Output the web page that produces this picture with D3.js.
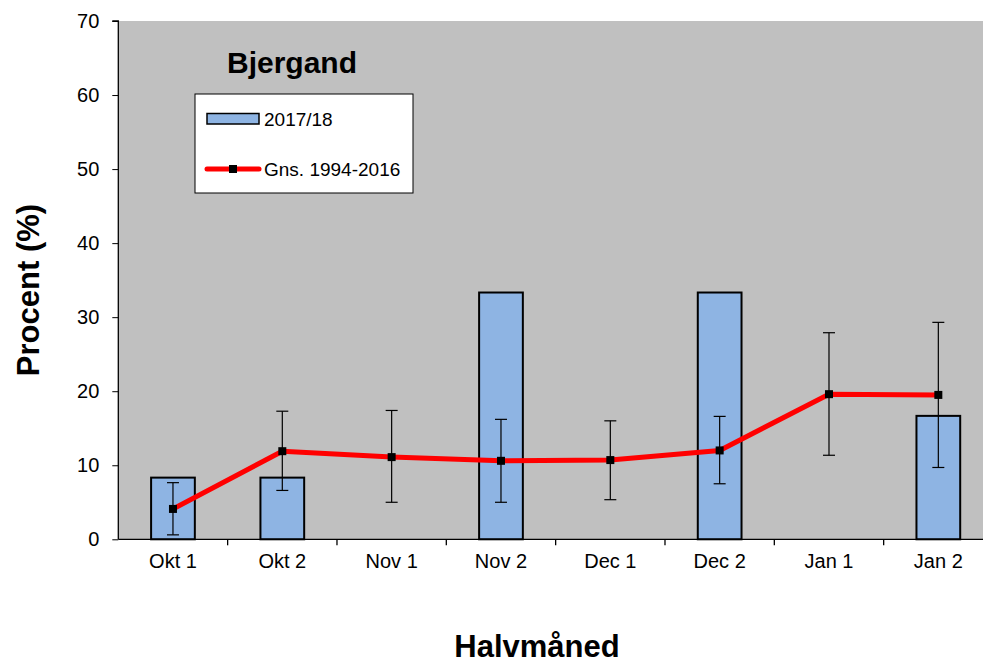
<!DOCTYPE html>
<html>
<head>
<meta charset="utf-8">
<script src="https://cdn.jsdelivr.net/npm/d3@7"></script>
<style>
  body { margin: 0; background: #fff; }
  svg { display: block; font-family: "Liberation Sans", Arial, sans-serif; }
</style>
</head>
<body>
<div id="chart"></div>
<script>
// data
var categories = ["Okt 1", "Okt 2", "Nov 1", "Nov 2", "Dec 1", "Dec 2", "Jan 1", "Jan 2"];
var season = [8.33, 8.33, 0, 33.33, 0, 33.33, 0, 16.67];       // 2017/18
var average = [4.1, 11.9, 11.1, 10.6, 10.7, 12.0, 19.6, 19.5];  // Gns. 1994-2016
var errLow = [0.6, 6.6, 5.0, 5.0, 5.35, 7.5, 11.35, 9.7];
var errHigh = [7.65, 17.3, 17.4, 16.2, 16.0, 16.6, 27.9, 29.3];
var yTicks = [0, 10, 20, 30, 40, 50, 60, 70];

var svgWidth = 983;
var svgHeight = 661;

// plot area runs past the right edge of the picture
var plot = { left: 118.3, top: 21, right: 993, bottom: 539.3 };

var svg = d3.select("#chart")
  .append("svg")
  .attr("width", svgWidth)
  .attr("height", svgHeight);

var x = d3.scaleBand()
  .domain(categories)
  .range([plot.left, plot.right])
  .paddingInner(0.6)
  .paddingOuter(0.3);

// same categories, no padding -> used for labels and boundary ticks
var xCat = d3.scaleBand()
  .domain(categories)
  .range([plot.left, plot.right]);

var y = d3.scaleLinear()
  .domain([0, 70])
  .range([plot.bottom, plot.top]);

// grey plot background
svg.append("rect")
  .attr("x", plot.left)
  .attr("y", plot.top)
  .attr("width", plot.right - plot.left)
  .attr("height", plot.bottom - plot.top)
  .attr("fill", "#c0c0c0");

// bars (zero values draw nothing)
var barData = categories.map((c, i) => ({ cat: c, value: season[i] }))
  .filter(d => d.value > 0);

svg.append("g").selectAll("rect")
  .data(barData)
  .enter()
  .append("rect")
  .attr("x", d => x(d.cat))
  .attr("y", d => y(d.value))
  .attr("width", x.bandwidth())
  .attr("height", d => y(0) - y(d.value))
  .attr("fill", "#8eb4e3")
  .attr("stroke", "#000")
  .attr("stroke-width", 2);

var cx = d => x(d) + x.bandwidth() / 2;

// error bars
var errG = svg.append("g")
  .attr("stroke", "#000")
  .attr("stroke-width", 1.2);
categories.forEach(function(c, i) {
  var px = cx(c);
  errG.append("line")
    .attr("x1", px).attr("x2", px)
    .attr("y1", y(errLow[i])).attr("y2", y(errHigh[i]));
  [errLow[i], errHigh[i]].forEach(function(v) {
    errG.append("line")
      .attr("x1", px - 6).attr("x2", px + 6)
      .attr("y1", y(v)).attr("y2", y(v));
  });
});

// average line
var line = d3.line()
  .x((d, i) => cx(categories[i]))
  .y(d => y(d));

svg.append("path")
  .datum(average)
  .attr("d", line)
  .attr("fill", "none")
  .attr("stroke", "#ff0000")
  .attr("stroke-width", 5)
  .attr("stroke-linejoin", "round");

svg.append("g").selectAll("rect")
  .data(average)
  .enter()
  .append("rect")
  .attr("x", (d, i) => cx(categories[i]) - 4)
  .attr("y", d => y(d) - 4)
  .attr("width", 8)
  .attr("height", 8)
  .attr("fill", "#000");

// y axis
var leftAxis = d3.axisLeft(y)
  .tickValues(yTicks)
  .tickSize(6)
  .tickPadding(13);

var yAxis = svg.append("g")
  .attr("transform", `translate(${plot.left}, 0)`)
  .call(leftAxis);
yAxis.select(".domain").attr("stroke", "#000").attr("stroke-width", 1.3)
  .attr("d", `M-6,${plot.top}H0V${plot.bottom}`);
yAxis.selectAll("text").style("font-size", "20px").attr("fill", "#000");

// x axis: labels centred in categories, ticks at boundaries
var bottomAxis = d3.axisBottom(xCat)
  .tickSize(0)
  .tickPadding(15);

var xAxis = svg.append("g")
  .attr("transform", `translate(0, ${plot.bottom})`)
  .call(bottomAxis);
xAxis.select(".domain").attr("stroke", "#000").attr("stroke-width", 1.3)
  .attr("d", `M${plot.left},0H${plot.right}`);
xAxis.selectAll("text").style("font-size", "20px").attr("fill", "#000");

xAxis.selectAll(".bound")
  .data(categories.slice(1))
  .enter()
  .append("line")
  .attr("x1", d => xCat(d)).attr("x2", d => xCat(d))
  .attr("y1", 0).attr("y2", 6)
  .attr("stroke", "#000")
  .attr("stroke-width", 1.3);

// title inside plot
svg.append("text")
  .attr("x", 227)
  .attr("y", 73)
  .attr("font-weight", "bold")
  .style("font-size", "30px")
  .text("Bjergand");

// legend
var legend = svg.append("g");
legend.append("rect")
  .attr("x", 195).attr("y", 94)
  .attr("width", 218).attr("height", 99)
  .attr("fill", "#fff")
  .attr("stroke", "#000")
  .attr("stroke-width", 1);

legend.append("rect")
  .attr("x", 207).attr("y", 113.5)
  .attr("width", 52).attr("height", 10.5)
  .attr("fill", "#8eb4e3")
  .attr("stroke", "#000")
  .attr("stroke-width", 1.5);
legend.append("text")
  .attr("x", 264).attr("y", 125.5)
  .style("font-size", "19px")
  .text("2017/18");

legend.append("line")
  .attr("x1", 207).attr("x2", 259)
  .attr("y1", 169).attr("y2", 169)
  .attr("stroke", "#ff0000")
  .attr("stroke-width", 5)
  .attr("stroke-linecap", "round");
legend.append("rect")
  .attr("x", 229).attr("y", 165)
  .attr("width", 8).attr("height", 8)
  .attr("fill", "#000");
legend.append("text")
  .attr("x", 264).attr("y", 176)
  .style("font-size", "19px")
  .text("Gns. 1994-2016");

// axis titles
svg.append("text")
  .attr("transform", "translate(39, 290) rotate(-90)")
  .attr("text-anchor", "middle")
  .attr("font-weight", "bold")
  .style("font-size", "31px")
  .text("Procent (%)");

svg.append("text")
  .attr("x", 537)
  .attr("y", 657)
  .attr("text-anchor", "middle")
  .attr("font-weight", "bold")
  .style("font-size", "31px")
  .text("Halvmåned");
</script>
</body>
</html>
